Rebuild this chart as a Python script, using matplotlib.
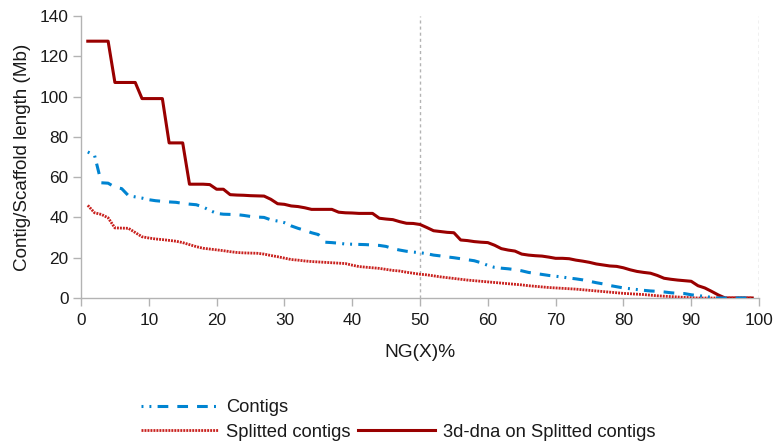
import matplotlib
matplotlib.use("Agg")
import matplotlib.pyplot as plt
from matplotlib.lines import Line2D

plt.rcParams['font.family'] = ['Liberation Sans', 'DejaVu Sans']
plt.rcParams['lines.scale_dashes'] = False

x_pct = list(range(1, 100))

dna3d = [127.5, 127.5, 127.5, 127.5, 107, 107, 107, 107, 99, 99,
         99, 99, 77, 77, 77, 56.5, 56.5, 56.5, 56.3, 54,
         54, 51.3, 51.1, 51, 50.8, 50.7, 50.6, 49, 46.8, 46.5,
         45.7, 45.4, 44.8, 44, 44, 44, 44, 42.6, 42.3, 42.2,
         42, 42, 42, 39.6, 39.2, 38.9, 37.9, 37.1, 37, 36.5,
         35, 33.4, 33, 32.6, 32.4, 28.8, 28.5, 28, 27.7, 27.5,
         26.2, 24.5, 23.8, 23.3, 21.8, 21.3, 21, 20.8, 20.3, 19.7,
         19.7, 19.5, 18.8, 18.3, 17.7, 16.9, 16.4, 15.9, 15.7, 15,
         14, 13.2, 12.7, 12.3, 11.2, 9.8, 9.3, 8.9, 8.6, 8.3,
         6.1, 5, 3.3, 1.5, 0, 0, 0, 0, 0]

contigs = [72.5, 70.8, 57.2, 57, 55, 54.3, 50.8, 50.2, 49.6, 48.8,
           48.3, 48, 47.7, 47.5, 47, 46.6, 46.3, 45.2, 43.5, 42,
           41.6, 41.5, 41.4, 41, 40.5, 40.2, 40, 38.8, 38.2, 37.4,
           35.8, 34.6, 33.6, 32.4, 31.5, 27.7, 27.5, 27.2, 26.8, 26.7,
           26.6, 26.5, 26.3, 26.1, 25.6, 24.5, 23.8, 23.2, 22.8, 22.5,
           22, 21.3, 20.9, 20.4, 20, 19.5, 19, 18.5, 17.5, 16.2,
           15.2, 14.8, 14.5, 14.1, 13.5, 12.7, 12.2, 11.7, 11.2, 10.8,
           10.4, 9.9, 9.5, 9, 8.3, 7.6, 7, 6.2, 5.6, 5,
           4.6, 4.2, 3.8, 3.5, 3.3, 3, 2.6, 2.3, 2.2, 1.6,
           1.2, 0.8, 0.3, 0, 0, 0, 0, 0, 0]

splitted = [46, 42.3, 41.5, 39.8, 34.8, 34.7, 34.6, 32.5, 30.4, 29.8,
            29.3, 29, 28.6, 28.2, 27.5, 26.5, 25.5, 24.7, 24.3, 23.9,
            23.5, 23, 22.6, 22.4, 22.3, 22.2, 21.8, 21.1, 20.5, 19.8,
            19.1, 18.8, 18.4, 18.1, 17.9, 17.7, 17.5, 17.3, 17.1, 16.3,
            15.6, 15.3, 15, 14.7, 14.2, 13.7, 13.4, 12.8, 12.3, 11.8,
            11.5, 11, 10.5, 10.1, 9.7, 9.3, 8.9, 8.6, 8.3, 8,
            7.7, 7.4, 7.1, 6.8, 6.5, 6.1, 5.8, 5.5, 5.2, 5,
            4.8, 4.6, 4.4, 4.1, 3.8, 3.5, 3.2, 2.9, 2.6, 2.3,
            2.1, 1.9, 1.7, 1.4, 1.1, 0.9, 0.7, 0.5, 0.3, 0.2,
            0, 0, 0, 0, 0, 0, 0, 0, 0]

x_ticks = [0, 10, 20, 30, 40, 50, 60, 70, 80, 90, 100]
y_ticks = [0, 20, 40, 60, 80, 100, 120, 140]
ref_lines = [50, 100]

GRAY = '#b3b3b3'
TXT = '#1a1a1a'
C_DNA = '#990000'
C_SPL = '#c9211e'
C_CON = '#0084d1'

fig = plt.figure(figsize=(7.76, 4.42), dpi=100)
ax = fig.add_axes([81/776, 1-298/442, (759-81)/776, (298-16)/442])

for xv in ref_lines:
    ax.axvline(xv, color=GRAY, lw=1.0, ls=(0, (2.2, 2.2)), zorder=1)

con_style = (0, (1.4, 4.3, 1.4, 4.5, 7.7, 6.5, 7.7, 6.5, 7.7, 4.5))
spl_style = (0, (1.4, 0.75))

l_dna, = ax.plot(x_pct, dna3d, color=C_DNA, lw=2.2, solid_joinstyle='round', zorder=3)
l_spl, = ax.plot(x_pct, splitted, color=C_SPL, lw=2.0, ls=spl_style, zorder=4)
l_con, = ax.plot(x_pct, contigs, color=C_CON, lw=2.2, ls=con_style, zorder=5)

ax.set_xlim(0, 100)
ax.set_ylim(0, 140)
ax.set_xticks(x_ticks)
ax.set_yticks(y_ticks)
ax.tick_params(axis='both', colors=GRAY, labelcolor=TXT, labelsize=12.4,
               length=6, width=1, direction='out')
ax.tick_params(axis='x', pad=5)
ax.tick_params(axis='y', pad=3)
for s in ['top', 'right']:
    ax.spines[s].set_visible(False)
for s in ['left', 'bottom']:
    ax.spines[s].set_color(GRAY)
    ax.spines[s].set_linewidth(1)

ax.set_xlabel('NG(X)%', fontsize=13.8, color=TXT, labelpad=11)
ax.set_ylabel('Contig/Scaffold length (Mb)', fontsize=13.6, color=TXT, labelpad=6)

blank = Line2D([], [], color='none')
handles = [l_con, l_spl, blank, l_dna]
labels = ['Contigs', 'Splitted contigs', '', '3d-dna on Splitted contigs']
leg = fig.legend(handles, labels, ncol=2, loc='upper left',
                 bbox_to_anchor=(141/776, 1-399/442), frameon=False,
                 fontsize=13.2, handlelength=4.2, handletextpad=0.44,
                 columnspacing=0.38, labelspacing=0.42, borderpad=0,
                 borderaxespad=0)
for t in leg.get_texts():
    t.set_color(TXT)

fig.savefig('out.png', dpi=100)
